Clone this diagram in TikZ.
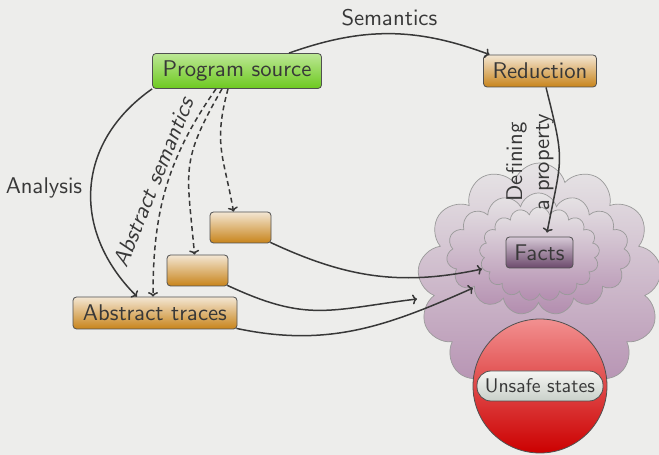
\documentclass[tikz,border=0pt]{standalone}
\usetikzlibrary{shapes.symbols,calc,arrows.meta}
% Computer Modern Sans at the 10pt design size, scaled up
\font\labfont=cmss10 at 22.7pt
\font\labital=cmssi10 at 22.7pt
\font\labsmall=cmss10 at 19.8pt
\definecolor{bg}{HTML}{EDEDEB}
\definecolor{ink}{HTML}{383838}
\definecolor{boxline}{HTML}{505050}
\definecolor{grtop}{HTML}{BCE795}
\definecolor{grbot}{HTML}{6DC91F}
\definecolor{ortop}{HTML}{F3E6D3}
\definecolor{orbot}{HTML}{C8841A}
\definecolor{fatop}{HTML}{D6C8D6}
\definecolor{fabot}{HTML}{6C4A6C}
\definecolor{cltop}{HTML}{E7E5E6}
\definecolor{clbot}{HTML}{B38DAF}
\definecolor{cloudline}{HTML}{9A9A9A}
\definecolor{rdtop}{HTML}{F29090}
\definecolor{rdbot}{HTML}{CC0000}
\definecolor{pltop}{HTML}{F5F5F3}
\definecolor{plbot}{HTML}{C9D0C9}
\begin{document}
\begin{tikzpicture}[x=1pt,y=1pt,
  box/.style={draw=boxline, line width=0.8pt, rounded corners=3.5pt,
    inner sep=0pt, text=ink, font=\labfont},
  greenbox/.style={box, top color=grtop, bottom color=grbot},
  orangebox/.style={box, top color=ortop, bottom color=orbot},
  factbox/.style={box, top color=fatop, bottom color=fabot},
  puff/.style={cloud, cloud ignores aspect, draw=cloudline, line width=0.7pt,
    top color=cltop, bottom color=clbot, inner sep=0pt},
  conn/.style={-{To[length=4.5pt,width=10pt]}, line width=1.5pt, draw=ink},
  dconn/.style={conn, dash pattern=on 5pt off 3.5pt},
  lab/.style={text=ink, font=\labfont, inner sep=0pt}]
\fill[bg] (0,0) rectangle (659,455);
\useasboundingbox (0,0) rectangle (659,455);

% property clouds
\node[puff, cloud puffs=13, minimum width=244pt, minimum height=240pt] (cA) at (539.5,172) {};
\node[puff, cloud puffs=15, minimum width=184pt, minimum height=122pt] (cB) at (538.5,201) {};
\node[puff, cloud puffs=17, minimum width=120pt, minimum height=94pt] (cC) at (539.5,201) {};

% unsafe region
\node[circle, draw=boxline, line width=0.8pt, top color=rdtop, bottom color=rdbot,
  minimum size=134pt, inner sep=0pt] (unsafe) at (540,69) {};
\node[draw=boxline, line width=0.8pt, rounded corners=14pt, top color=pltop, bottom color=plbot,
  minimum width=126pt, minimum height=30pt, inner sep=0pt, text=ink, font=\labsmall]
  (pill) at (540,69) {Unsafe states};

% boxes
\node[greenbox, minimum width=169pt, minimum height=35pt] (ps) at (237,384) {Program source};
\node[orangebox, minimum width=113pt, minimum height=32pt] (red) at (540,384) {Reduction};
\node[orangebox, minimum width=164pt, minimum height=32pt] (at) at (155,142) {Abstract traces};
\node[orangebox, minimum width=61pt, minimum height=31pt] (b1) at (240.5,227.5) {};
\node[orangebox, minimum width=61pt, minimum height=31pt] (b2) at (197.5,184.5) {};
\node[factbox, minimum width=67pt, minimum height=31pt] (facts) at (539.5,202.5) {Facts};

% arrow targets inside the clouds
\coordinate (f1) at (482,186);
\coordinate (f2) at (417,156);
\coordinate (f3) at (473,167);

% connectors
\draw[conn] (ps.19) to[bend left=20]
  node[midway, above=7pt, lab] (semlab) {Semantics} (red.162);
\draw[conn] (ps.south west) to[out=215, in=135, looseness=1.15]
  node[midway, left=8pt, lab] (anlab) {Analysis} ($(at.north)+(-18,0)$);
\draw[dconn] ($(ps.south)+(-21,0)$) to[out=235, in=90] ($(at.north)+(-2,0)$);
\draw[dconn] ($(ps.south)+(-15,0)$) to[out=240, in=95, looseness=1.3] ($(b2.north)+(-3,0)$);
\draw[dconn] ($(ps.south)+(-9,0)$) to[out=255, in=100, looseness=1.2] ($(b1.north)+(-7,0)$);
\node[lab, font=\labital, rotate=68] (aslab) at (153,273) {Abstract semantics};

\draw[conn] ($(red.south)+(6,0)$) to[out=-76, in=79, looseness=1.4] ($(facts.north)+(7.5,4)$);
\node[lab, align=center, rotate=90, font={\labfont\baselineskip=27pt}] (deflab) at (530,293)
  {Defining\\a property};

\draw[conn] ($(b1.south east)+(-1,1)$) to[out=-25, in=192] (f1);
\draw[conn] ($(b2.south east)+(-1,1)$) to[out=-25, in=187, looseness=1.2] (f2);
\draw[conn] ($(at.south east)+(-1,1)$) to[out=-12, in=204] (f3);
\end{tikzpicture}
\end{document}
